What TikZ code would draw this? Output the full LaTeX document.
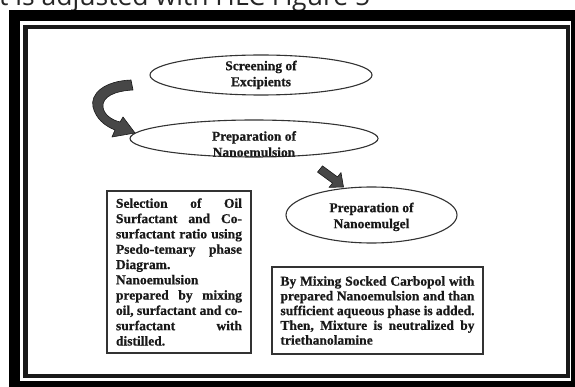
\documentclass[tikz,border=0pt]{standalone}
\usepackage{graphicx}
\usepackage{fontspec}
\setmainfont{Liberation Serif}[BoldFeatures={FakeBold=0.6}]
\newfontfamily\capfont{Open Sans}
\usetikzlibrary{shapes.geometric}
\begin{document}
\begin{tikzpicture}[x=1pt,y=-1pt,
  oval/.style={ellipse, draw=black!80, line width=1.1pt, inner sep=0pt},
  ovaltext/.style={align=center, font=\bfseries\fontsize{13.5}{16}\selectfont, inner sep=0pt, text=black!90},
  infobox/.style={rectangle, draw=black!80, line width=1.6pt, inner ysep=0pt, text=black!90},
  bigarrow/.style={fill=black!72, draw=black!90, line width=0.6pt, line join=round}]
\useasboundingbox (0,0) rectangle (575,387);
\clip (0,0) rectangle (575,387);
\fill[white] (0,0) rectangle (575,387);
% cut caption at top
\node[anchor=base west, inner sep=0pt, text=black!85] (cap) at (-1,6)
  {\resizebox{371pt}{!}{\capfont t is adjusted with HLC Figure 5}};
% frames
\draw[line width=11pt] (14.5,16) rectangle (576,386);
\draw[line width=4.5pt, draw=black!90] (25.5,27) rectangle (568,376);
% ellipses
\node[oval, minimum width=222pt, minimum height=40pt] (e1) at (261,75) {};
\node[ovaltext] (e1t) at (261,74.9) {Screening of\\Excipients};
\node[oval, minimum width=248pt, minimum height=37pt] (e2) at (254,138.5) {};
\node[ovaltext] (e2t) at (254,144) {Preparation of\\Nanoemulsion};
\node[oval, minimum width=171pt, minimum height=56pt] (e3) at (371.5,215) {};
\node[ovaltext] (e3t) at (371.5,216.9) {Preparation of\\Nanoemulgel};
% curved arrow
\fill[bigarrow] (131,80) .. controls (104,81) and (90,94) .. (93,107)
  .. controls (96,119) and (105,126) .. (115,130) -- (112,137) -- (135,133)
  -- (123,117) -- (120,122) .. controls (112,120) and (104,115) .. (103,107)
  .. controls (102,97) and (114,91) .. (133,90) -- cycle;
% small arrow
\fill[bigarrow] (322.5,165.9) -- (337.5,176.9) -- (341,172.6) -- (343.5,187)
  -- (329,187.4) -- (332.5,183.1) -- (317.5,172.1) -- cycle;
% boxes
\node[infobox, text width=126pt, inner xsep=9pt, minimum height=162pt,
  font=\bfseries\fontsize{13.5}{15.3}\selectfont] (b1) at (179,272)
  {\noindent Selection\hfill of\hfill Oil\\
   Surfactant\hfill and\hfill Co-\\
   surfactant\hfill ratio\hfill using\\
   Psedo-temary\hfill phase\\
   Diagram.\\
   Nanoemulsion\\
   prepared\hfill by\hfill mixing\\
   oil,\hfill surfactant\hfill and\hfill co-\\
   surfactant\hfill with\\
   distilled.};
\node[infobox, text width=194pt, inner xsep=8.5pt, minimum height=87pt,
  font=\bfseries\fontsize{13.5}{14.75}\selectfont] (b2) at (377.5,310.5)
  {\noindent By\hfill Mixing\hfill Socked\hfill Carbopol\hfill with\\
   prepared\hfill Nanoemulsion\hfill and\hfill than\\
   sufficient\hfill aqueous\hfill phase\hfill is\hfill added.\\
   Then,\hfill Mixture\hfill is\hfill neutralized\hfill by\\
   triethanolamine};
\end{tikzpicture}
\end{document}
